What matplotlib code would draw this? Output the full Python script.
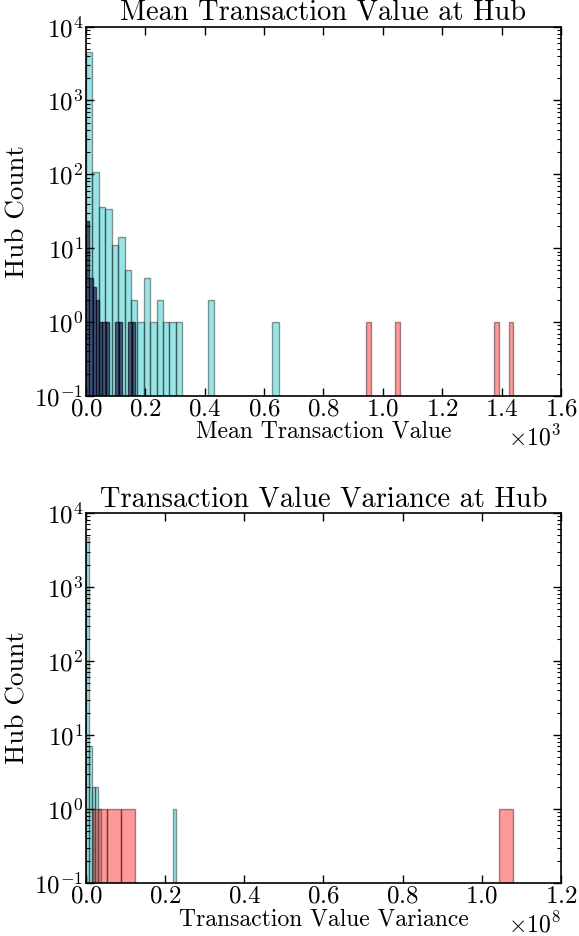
import numpy as np
import matplotlib
matplotlib.use("Agg")
import matplotlib.pyplot as plt
from matplotlib.ticker import MultipleLocator

plt.rcParams["font.family"] = "serif"
plt.rcParams["font.serif"] = ["cmr10"]
plt.rcParams["mathtext.fontset"] = "cm"
plt.rcParams["axes.formatter.use_mathtext"] = True
plt.rcParams["axes.unicode_minus"] = False

# --- mean transaction value per hub (histogram bins) ---
mean_cyan_range = (0.0, 649.0)
mean_cyan_counts = [4500, 106, 36, 34, 11, 14, 5, 2, 1, 4, 1, 2, 1, 1, 1,
                    0, 0, 0, 0, 2, 0, 0, 0, 0, 0, 0, 0, 0, 0, 1]
mean_red_range = (942.0, 1440.0)
mean_red_counts = [1, 0, 0, 0, 0, 0, 1, 0, 0, 0, 0, 0, 0, 0, 0,
                   0, 0, 0, 0, 0, 0, 0, 0, 0, 0, 0, 1, 0, 0, 1]
mean_navy_range = (0.0, 165.0)
mean_navy_counts = [23, 4, 3, 2, 1, 1, 1, 0, 0, 1, 1, 0, 0, 1, 1]

# --- transaction value variance per hub ---
var_cyan_range = (0.0, 0.2266e8)
var_cyan_counts = [4700, 7, 2, 2, 1, 0, 0, 0, 0, 0, 0, 0, 0, 0, 0,
                   0, 0, 0, 0, 0, 0, 0, 0, 0, 0, 0, 0, 0, 0, 1]
var_red_range = (0.018e8, 1.078e8)
var_red_counts = [1, 1, 1, 0, 0, 0, 0, 0, 0, 0, 0, 0, 0, 0, 0,
                  0, 0, 0, 0, 0, 0, 0, 0, 0, 0, 0, 0, 0, 0, 1]

titles = ["Mean Transaction Value at Hub", "Transaction Value Variance at Hub"]
xlabels = ["Mean Transaction Value", "Transaction Value Variance"]
xlims = [(0, 1600), (0, 1.2e8)]
xsteps = [200, 0.2e8]

CYAN = "#00bfbf"
RED = "#ff0000"
NAVY = "#1a1a5a"


def draw_hist(ax, rng, counts, color, alpha):
    counts = np.asarray(counts, dtype=float)
    edges = np.linspace(rng[0], rng[1], len(counts) + 1)
    m = counts > 0
    ax.bar(edges[:-1][m], counts[m], width=np.diff(edges)[m], align="edge",
           color=color, alpha=alpha, edgecolor="k", linewidth=1.0)


fig = plt.figure(figsize=(5.79, 9.36), dpi=100)
ax1 = fig.add_axes([0.1485, 0.577, 0.8204, 0.3946])
ax2 = fig.add_axes([0.1485, 0.0566, 0.8204, 0.3953])

panels = [
    (ax1, [(mean_cyan_range, mean_cyan_counts, CYAN, 0.4),
           (mean_red_range, mean_red_counts, RED, 0.4),
           (mean_navy_range, mean_navy_counts, NAVY, 0.65)]),
    (ax2, [(var_cyan_range, var_cyan_counts, CYAN, 0.4),
           (var_red_range, var_red_counts, RED, 0.4)]),
]

for i, (ax, series) in enumerate(panels):
    ax.set_yscale("log")
    for rng, counts, color, alpha in series:
        draw_hist(ax, rng, counts, color, alpha)
    ax.set_xlim(*xlims[i])
    ax.set_ylim(0.1, 1e4)
    ax.xaxis.set_major_locator(MultipleLocator(xsteps[i]))
    ax.ticklabel_format(style="sci", axis="x", scilimits=(0, 0))
    ax.set_title(titles[i], fontsize=20.5, pad=5)
    ax.set_xlabel(xlabels[i], fontsize=17, labelpad=0)
    ax.set_ylabel("Hub Count", fontsize=19.5, labelpad=3)
    ax.tick_params(which="both", direction="in", top=True, right=True, labelsize=18)
    ax.tick_params(which="major", length=6, width=1.0, pad=2)
    ax.tick_params(which="minor", length=3, width=0.8)
    ax.tick_params(axis="x", which="minor", bottom=False, top=False)
    ax.xaxis.get_offset_text().set_fontsize(17)
    for s in ax.spines.values():
        s.set_linewidth(1.2)

fig.savefig("out.png", dpi=100)
